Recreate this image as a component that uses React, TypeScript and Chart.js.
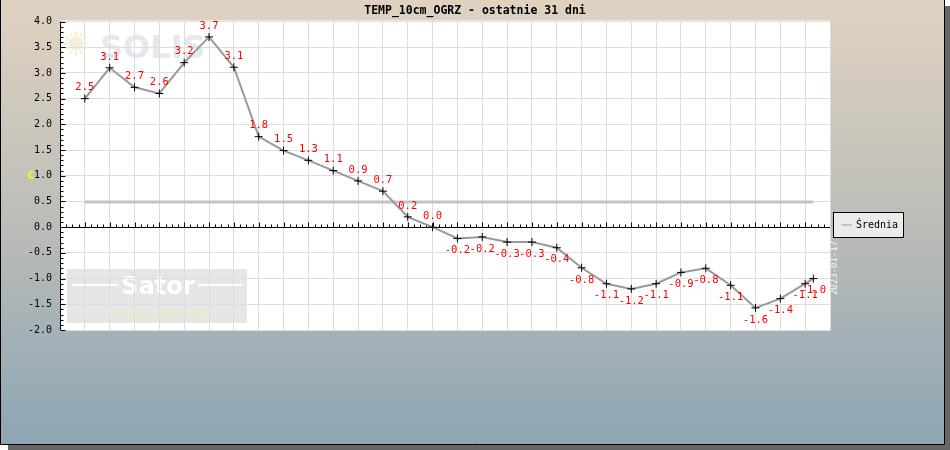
import React, { useEffect, useRef } from "react";
import { Chart, registerables } from "chart.js";

Chart.register(...registerables);

// ---- data ----
const chartTitle = "TEMP_10cm_OGRZ - ostatnie 31 dni";
const unitLabel = "C";
const legendLabel = "Średnia";
// day position of each reading (last reading is a partial day)
const days = [0, 1, 2, 3, 4, 5, 6, 7, 8, 9, 10, 11, 12, 13, 14, 15, 16, 17, 18, 19, 20, 21, 22, 23, 24, 25, 26, 27, 28, 29, 29.33];
const temps = [2.5, 3.1, 2.72, 2.6, 3.2, 3.7, 3.11, 1.76, 1.49, 1.3, 1.1, 0.9, 0.7, 0.2, 0.0, -0.22, -0.19, -0.29, -0.29, -0.4, -0.79, -1.1, -1.2, -1.1, -0.88, -0.8, -1.13, -1.57, -1.39, -1.1, -1.0];
const averageValue = 0.49;
const yTickValues = [4.0, 3.5, 3.0, 2.5, 2.0, 1.5, 1.0, 0.5, 0.0, -0.5, -1.0, -1.5, -2.0];
const watermarkDate = "2023-01-17";

const MONO = "'DejaVu Sans Mono', monospace";

const decorPlugin = {
  id: "decor",
  beforeDraw(chart: any) {
    const ctx = chart.ctx;
    const { left, top, right, bottom } = chart.chartArea;
    ctx.save();
    // shadow
    ctx.fillStyle = "#666666";
    ctx.fillRect(8, 6, 942, 444);
    // gradient background
    const g = ctx.createLinearGradient(0, 0, 0, 445);
    g.addColorStop(0, "#e0d2c1");
    g.addColorStop(0.5, "#bcbdb8");
    g.addColorStop(1, "#8da5b4");
    ctx.fillStyle = g;
    ctx.fillRect(0, 0, 945, 445);
    ctx.strokeStyle = "#000";
    ctx.lineWidth = 1;
    ctx.beginPath();
    ctx.moveTo(0.5, 0);
    ctx.lineTo(0.5, 444.5);
    ctx.lineTo(944.5, 444.5);
    ctx.lineTo(944.5, 0);
    ctx.stroke();

    // plot area
    ctx.fillStyle = "#ffffff";
    ctx.fillRect(left, top - 1, right - left, bottom - top + 1);

    // SOLIS watermark
    ctx.fillStyle = "#f6eed6";
    ctx.beginPath();
    ctx.arc(left + 16, top + 22, 7, 0, Math.PI * 2);
    ctx.fill();
    ctx.strokeStyle = "#f6eed6";
    ctx.lineWidth = 2;
    for (let k = 0; k < 12; k++) {
      const a = (k * Math.PI) / 6;
      ctx.beginPath();
      ctx.moveTo(left + 16 + Math.cos(a) * 8, top + 22 + Math.sin(a) * 8);
      ctx.lineTo(left + 16 + Math.cos(a) * 12, top + 22 + Math.sin(a) * 12);
      ctx.stroke();
    }
    ctx.fillStyle = "#e4e8ef";
    ctx.font = "bold 32px 'DejaVu Sans', sans-serif";
    ctx.textAlign = "left";
    ctx.textBaseline = "alphabetic";
    ctx.fillText("SOLIS", left + 40, top + 36);

    // Sator watermark
    ctx.fillStyle = "#e6e6e6";
    ctx.fillRect(left + 7, bottom - 61, 180, 54);
    ctx.strokeStyle = "#ffffff";
    ctx.lineWidth = 2;
    ctx.beginPath();
    ctx.moveTo(left + 12, bottom - 45);
    ctx.lineTo(left + 58, bottom - 45);
    ctx.moveTo(left + 138, bottom - 45);
    ctx.lineTo(left + 182, bottom - 45);
    ctx.stroke();
    ctx.fillStyle = "#ffffff";
    ctx.font = "bold 24px 'DejaVu Sans', sans-serif";
    ctx.textAlign = "center";
    ctx.fillText("Sator", left + 98, bottom - 36);
    ctx.fillStyle = "#f0edb8";
    ctx.font = "italic 12px 'Liberation Serif', serif";
    ctx.fillText("Grzegorz Skowroński", left + 97, bottom - 13);

    // vertical date watermark
    ctx.save();
    ctx.translate(right + 5, bottom - 62);
    ctx.rotate(-Math.PI / 2);
    ctx.fillStyle = "rgba(255,255,255,0.9)";
    ctx.font = "9px " + MONO;
    ctx.textAlign = "center";
    ctx.textBaseline = "middle";
    ctx.fillText(watermarkDate, 0, 0);
    ctx.restore();

    ctx.restore();
  },
  beforeDatasetsDraw(chart: any) {
    const ctx = chart.ctx;
    const xs = chart.scales.x;
    const ys = chart.scales.y;
    const { left, top, right, bottom } = chart.chartArea;
    ctx.save();
    ctx.strokeStyle = "#000";
    ctx.lineWidth = 1;
    // y axis
    const ax = Math.round(left) + 0.5;
    ctx.beginPath();
    ctx.moveTo(ax, top);
    ctx.lineTo(ax, bottom);
    for (let k = -20; k <= 40; k++) {
      const y = Math.round(ys.getPixelForValue(k / 10)) + 0.5;
      const len = k % 5 === 0 ? 5 : 3;
      ctx.moveTo(ax, y);
      ctx.lineTo(ax + len, y);
    }
    // x axis at zero
    const y0 = Math.round(ys.getPixelForValue(0)) + 0.5;
    ctx.moveTo(left, y0);
    ctx.lineTo(right, y0);
    for (let k = -4; k <= 120; k++) {
      const x = Math.round(xs.getPixelForValue(k / 4)) + 0.5;
      if (x > right) continue;
      const len = k % 4 === 0 ? 5 : 3;
      ctx.moveTo(x, y0);
      ctx.lineTo(x, y0 - len);
    }
    ctx.stroke();

    // y tick labels
    ctx.fillStyle = "#000";
    ctx.font = "10px " + MONO;
    ctx.textAlign = "right";
    ctx.textBaseline = "middle";
    yTickValues.forEach((v) => {
      ctx.fillText(v.toFixed(1), left - 8, ys.getPixelForValue(v));
    });
    // unit
    ctx.fillStyle = "#ffff00";
    ctx.font = "bold 11px " + MONO;
    ctx.fillText(unitLabel, left - 26, ys.getPixelForValue(1));

    // title
    ctx.fillStyle = "#000";
    ctx.font = "bold 11.5px " + MONO;
    ctx.textAlign = "center";
    ctx.fillText(chartTitle, 475, 11.5);

    // legend
    ctx.fillStyle = "#ebebeb";
    ctx.fillRect(833.5, 212.5, 70, 25);
    ctx.strokeStyle = "#000";
    ctx.strokeRect(833.5, 212.5, 70, 25);
    ctx.strokeStyle = "#c4c4c4";
    ctx.lineWidth = 2;
    ctx.beginPath();
    ctx.moveTo(842, 225);
    ctx.lineTo(852, 225);
    ctx.stroke();
    ctx.fillStyle = "#000";
    ctx.font = "10px " + MONO;
    ctx.textAlign = "left";
    ctx.fillText(legendLabel, 856, 225);
    ctx.restore();
  },
  afterDatasetsDraw(chart: any) {
    const ctx = chart.ctx;
    const meta = chart.getDatasetMeta(0);
    ctx.save();
    ctx.fillStyle = "#ff0000";
    ctx.font = "10.5px " + MONO;
    ctx.textAlign = "center";
    ctx.textBaseline = "middle";
    meta.data.forEach((pt: any, i: number) => {
      const v = temps[i];
      const dy = v >= 0 ? -11 : 12;
      ctx.fillText(v.toFixed(1), pt.x, pt.y + dy);
    });
    ctx.restore();
  },
};

export default function App() {
  const ref = useRef<HTMLCanvasElement | null>(null);
  useEffect(() => {
    if (!ref.current) return;
    const chart = new Chart(ref.current, {
      type: "line",
      data: {
        datasets: [
          {
            label: chartTitle,
            data: days.map((d, i) => ({ x: d, y: temps[i] })),
            borderColor: "#999999",
            borderWidth: 2,
            pointStyle: "cross",
            pointRadius: 4,
            pointBorderColor: "#000000",
            pointBackgroundColor: "#000000",
            pointBorderWidth: 1,
            tension: 0,
            fill: false,
          },
          {
            label: legendLabel,
            data: [
              { x: days[0], y: averageValue },
              { x: days[days.length - 1], y: averageValue },
            ],
            borderColor: "#c4c4c4",
            borderWidth: 3,
            pointRadius: 0,
            fill: false,
          },
        ],
      } as any,
      options: {
        animation: false,
        responsive: false,
        devicePixelRatio: 1,
        layout: { padding: { left: 60, right: 120, top: 21.5, bottom: 120 }, autoPadding: false },
        plugins: { legend: { display: false }, title: { display: false }, tooltip: { enabled: false } },
        scales: {
          x: {
            type: "linear",
            min: -1,
            max: 30,
            ticks: { display: false },
            grid: { color: "#dddddd", drawTicks: false, lineWidth: 1 },
            border: { display: false },
            afterBuildTicks: (s: any) => {
              const t: any[] = [];
              for (let d = -1; d <= 30; d++) t.push({ value: d });
              s.ticks = t;
            },
            afterFit: (s: any) => {
              s.height = 0;
            },
          },
          y: {
            type: "linear",
            min: -2,
            max: 4,
            ticks: { display: false },
            grid: { color: "#dddddd", drawTicks: false, lineWidth: 1 },
            border: { display: false },
            afterBuildTicks: (s: any) => {
              s.ticks = yTickValues.map((v) => ({ value: v }));
            },
            afterFit: (s: any) => {
              s.width = 0;
            },
          },
        },
      } as any,
      plugins: [decorPlugin],
    });
    return () => chart.destroy();
  }, []);
  return (
    <div style={{ position: "absolute", left: 0, top: 0, width: 950, height: 450 }}>
      <canvas ref={ref} width={950} height={450} style={{ display: "block" }} />
    </div>
  );
}
